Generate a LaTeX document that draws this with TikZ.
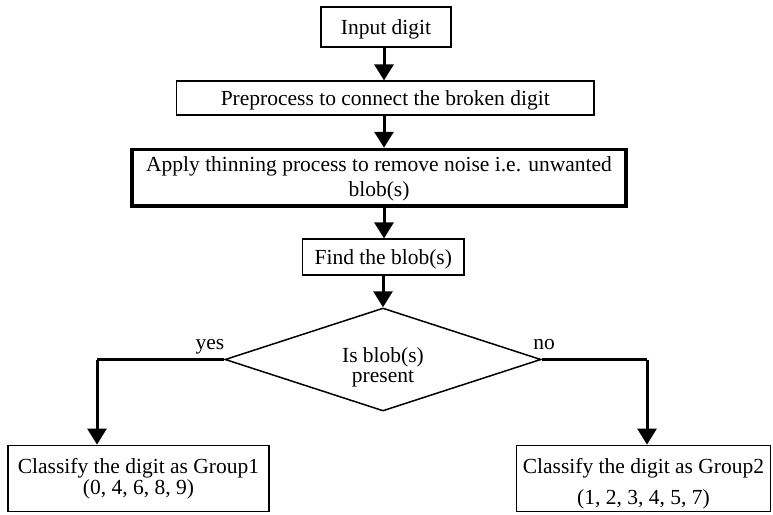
\documentclass[tikz,border=0pt]{standalone}
\usepackage{fontspec}
\setmainfont{Liberation Serif}
\usetikzlibrary{arrows.meta,shapes.geometric}
\begin{document}
\begin{tikzpicture}[x=1pt,y=-1pt,
  box/.style={draw,line width=1.8pt,inner sep=0pt,align=center,font=\fontsize{21.5}{25}\selectfont},
  arr/.style={line width=3pt,-{Triangle[width=19pt,length=16pt]}},
  txt/.style={font=\fontsize{21.5}{24}\selectfont,inner sep=0pt,anchor=base}]
\useasboundingbox (0,0) rectangle (773,514);
\node[box,minimum width=129.5pt,minimum height=40.6pt] (in) at (386,27) {};
\node[txt] (intx) at (386,34) {Input digit};
\node[box,minimum width=417.5pt,minimum height=33.4pt] (pre) at (385.25,98) {};
\node[txt] (pretx) at (385.25,105) {Preprocess to connect the broken digit};
\node[box,line width=3.2pt,minimum width=494pt,minimum height=56.7pt] (app) at (379,177.7) {};
\node[txt] (apptx1) at (379,171.5) {Apply thinning process to remove noise i.e. unwanted};
\node[txt] (apptx2) at (379,196.5) {blob(s)};
\node[box,minimum width=161.5pt,minimum height=35.4pt] (find) at (383.25,257) {};
\node[txt] (findtx) at (383.25,264) {Find the blob(s)};
\node[draw,diamond,line width=1.5pt,minimum width=316pt,minimum height=103pt,inner sep=0pt] (dec) at (383,359.5) {};
\node[txt] (dectx1) at (383,362) {Is blob(s)};
\node[txt] (dectx2) at (383,382) {present};
\node[box,minimum width=261pt,minimum height=66pt] (g1) at (138.5,478.5) {};
\node[txt] (g1tx1) at (138.5,473.5) {Classify the digit as Group1};
\node[txt] (g1tx2) at (138.5,494) {(0, 4, 6, 8, 9)};
\node[box,minimum width=254pt,minimum height=66pt] (g2) at (643.5,478.5) {};
\node[txt] (g2tx1) at (643.5,473.5) {Classify the digit as Group2};
\node[txt] (g2tx2) at (643.5,504) {(1, 2, 3, 4, 5, 7)};
\node[txt] (yes) at (210,349) {yes};
\node[txt] (no) at (544,349) {no};
\coordinate (lc) at (97,359.5);
\coordinate (rc) at (647,359.5);
\draw[arr] (in.south -| 384,0) -- (pre.north -| 384,0);
\draw[arr] (pre.south -| 384,0) -- (app.north -| 384,0);
\draw[arr] (app.south -| 384,0) -- (find.north -| 384,0);
\draw[arr] (find.south -| dec.north) -- (dec.north);
\draw[line width=2.2pt] (dec.west) -- (lc);
\draw[line width=2.2pt] (dec.east) -- (rc);
\draw[arr] (lc) -- (lc |- g1.north);
\draw[arr] (rc) -- (rc |- g2.north);
\end{tikzpicture}
\end{document}
